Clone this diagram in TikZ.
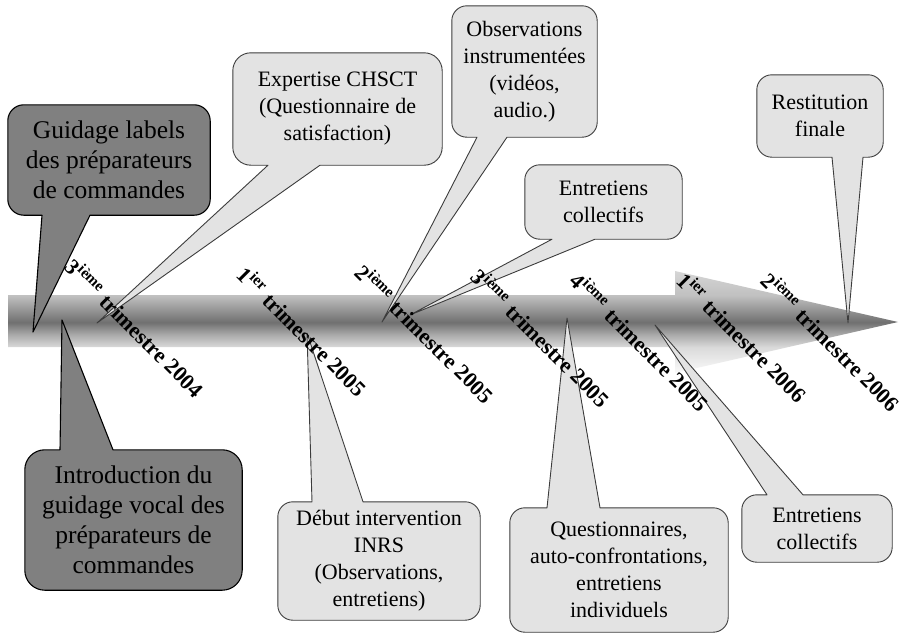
\documentclass[tikz,border=0pt]{standalone}
\usepackage{fontspec}
\setmainfont{Liberation Serif}
\usepackage{xcolor}
\definecolor{ardoise}{HTML}{808080}
\definecolor{brume}{HTML}{E3E3E3}
\definecolor{trait}{HTML}{3C3C3C}
\definecolor{barW}{HTML}{FAFAFA}
\definecolor{barB}{HTML}{DADADA}
\definecolor{barM}{HTML}{A8A8A8}
\definecolor{barD}{HTML}{707070}
\definecolor{barH}{HTML}{909090}
\definecolor{barT}{HTML}{C0C0C0}
\definecolor{barTop}{HTML}{D6D6D6}
\usepackage{tikz}
\usetikzlibrary{calc}
\pgfdeclareverticalshading{barre}{100bp}{color(0bp)=(barW); color(25bp)=(barW);
  color(37.6bp)=(barB); color(44bp)=(barM); color(49.8bp)=(barD); color(55bp)=(barH);
  color(62.9bp)=(barT); color(75bp)=(barTop); color(100bp)=(barTop)}
\pgfdeclarelayer{fond}
\pgfdeclarelayer{bulles}
\pgfsetlayers{fond,bulles,main}
\tikzset{
  txt/.style   ={font=\fontsize{22}{27}\selectfont,align=center,inner sep=0pt},
  dtxt/.style  ={font=\fontsize{25.5}{30}\selectfont,align=center,inner sep=0pt},
  pale/.style  ={draw=trait,fill=brume,line width=0.9pt,line join=round},
  sombre/.style={draw=black,fill=ardoise,line width=1.1pt,line join=round},
  trim/.style  ={font=\fontsize{22}{22}\selectfont\bfseries,rotate=-45,
                 anchor=west,inner sep=0pt},
}
% callout: [radius]{style}{node}{pointer side}{other side}{base left x}{base right x}{tip}
\newcommand{\bulle}[8][15pt]{%
  \path[#2] (#6,0 |- #3.#4) [rounded corners=#1] -- (#3.#4 west) -- (#3.#5 west)
    -- (#3.#5 east) -- (#3.#4 east) [sharp corners] -- (#7,0 |- #3.#4) -- (#8) -- cycle;}

\begin{document}
\begin{tikzpicture}[x=1pt,y=-1pt]
\useasboundingbox (0,0) rectangle (905,633);
\begin{pgfonlayer}{fond}
% timeline arrow
\path[shading=barre] (8,295) -- (675,295) -- (675,271) -- (898,322) -- (675,373)
  -- (675,347) -- (8,347) -- cycle;
\end{pgfonlayer}
% texts of the callouts
\node[dtxt,minimum width=202,minimum height=110] (guidage) at (109,160)
  {Guidage labels\\des préparateurs\\de commandes};
\node[dtxt,minimum width=217,minimum height=140] (vocal) at (133.5,520)
  {Introduction du\\guidage vocal des\\préparateurs de\\commandes};
\node[txt,minimum width=209,minimum height=112] (chsct) at (337.5,109)
  {Expertise CHSCT\\(Questionnaire de\\satisfaction)};
\node[txt,minimum width=145,minimum height=131] (obs) at (524.5,71.5)
  {Observations\\instrumentées\\(vidéos,\\audio.)};
\node[txt,minimum width=157,minimum height=74] (collA) at (603.5,202)
  {Entretiens\\collectifs};
\node[txt,minimum width=126,minimum height=82] (restit) at (820,116)
  {Restitution\\finale};
\node[txt,minimum width=202,minimum height=118] (inrs) at (379,561)
  {Début intervention\\INRS\\(Observations,\\entretiens)};
\node[txt,minimum width=218,minimum height=124] (quest) at (619,570)
  {Questionnaires,\\auto-confrontations,\\entretiens\\individuels};
\node[txt,minimum width=150,minimum height=67] (collB) at (817,528.5)
  {Entretiens\\collectifs};
% quarters
\foreach \px/\py/\rg/\sx/\an [count=\i] in {70/262/3/ième/2004,242/270/1/ier/2005,
    360/268/2/ième/2005,476/272/3/ième/2005,575/276/4/ième/2005,
    682/276/1/ier/2006,766/276/2/ième/2006}
  \node[trim] (tri\i) at (\px,\py) {\rg\textsuperscript{\sx}\hspace{0.3em}trimestre \an};
% pointer tips on the arrow
\coordinate (tGuid) at (33,332);
\coordinate (tVoc) at (62,320);
\coordinate (tChs) at (97,323);
\coordinate (tObs) at (382,322);
\coordinate (tColA) at (410,315);
\coordinate (tRes) at (848,323);
\coordinate (tInrs) at (307,333);
\coordinate (tQue) at (567,318);
\coordinate (tColB) at (655,325);
\begin{pgfonlayer}{bulles}
\bulle[16pt]{sombre}{guidage}{south}{north}{42}{90}{tGuid}
\bulle[20pt]{sombre}{vocal}{north}{south}{60}{113}{tVoc}
\bulle[18pt]{pale}{chsct}{south}{north}{268}{320}{tChs}
\bulle{pale}{obs}{south}{north}{477}{507}{tObs}
\bulle{pale}{collA}{south}{north}{552}{595}{tColA}
\bulle{pale}{restit}{south}{north}{832}{863}{tRes}
\bulle{pale}{inrs}{north}{south}{312}{363}{tInrs}
\bulle{pale}{quest}{north}{south}{547}{600}{tQue}
\bulle{pale}{collB}{north}{south}{767}{803}{tColB}
\end{pgfonlayer}
\end{tikzpicture}
\end{document}
